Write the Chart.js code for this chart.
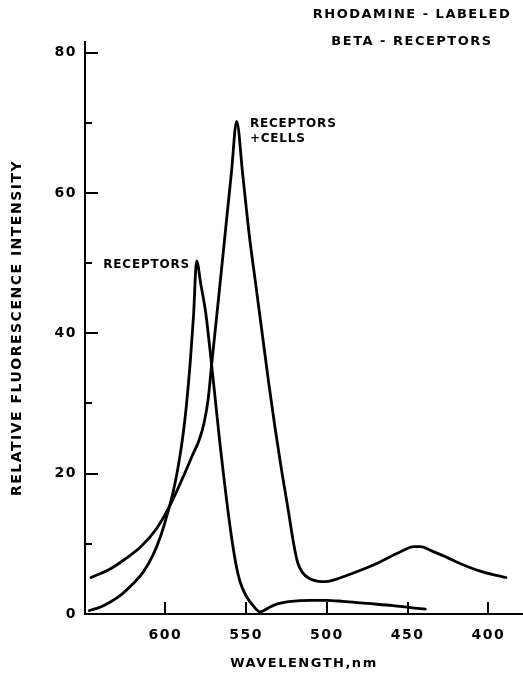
<!DOCTYPE html>
<html><head><meta charset="utf-8">
<script src="https://cdn.jsdelivr.net/npm/chart.js@4/dist/chart.umd.min.js"></script>
<style>html,body{margin:0;padding:0;background:#fff;}#wrap{width:523px;height:678px;position:relative;}</style>
</head><body><div id="wrap"><canvas id="c"></canvas></div>
<script>
// Receptors + cells
const cellsWavelength = [646, 635, 625, 615, 605, 597, 589, 583, 579, 576, 573.5, 571.3, 567, 563, 559, 555.8, 552, 548, 544, 540, 536, 532, 528, 524, 520.5, 518, 515, 511, 506, 501, 495, 484, 469, 455, 446, 442, 435, 425, 417.5, 405, 395, 389];
const cellsIntensity  = [5.2, 6.3, 7.8, 9.6, 12.3, 15.5, 19.5, 22.7, 24.8, 27.2, 30.5, 35.5, 45, 54, 63, 70.2, 62.5, 54, 47, 40, 33, 26.5, 20.5, 15, 10, 7.3, 5.9, 5.1, 4.7, 4.6, 4.9, 5.8, 7.2, 8.8, 9.6, 9.6, 9.0, 8.0, 7.2, 6.1, 5.5, 5.2];
// Receptors
const receptorsWavelength = [647, 640, 634, 627, 620, 613.6, 608, 603, 599, 595, 592, 589, 587, 584.5, 582.5, 580.6, 578, 575, 572, 569, 566, 564, 562, 559, 556, 553.7, 550, 546, 541.4, 536, 531, 522, 510, 500, 490, 475, 459, 448, 439];
const receptorsIntensity  = [0.5, 1.0, 1.7, 2.8, 4.3, 6.0, 8.2, 11, 14, 17.5, 21, 25.5, 29.5, 36, 42.5, 50.3, 47, 43, 37, 30.5, 24, 20, 16.2, 11, 6.8, 4.6, 2.6, 1.3, 0.3, 0.9, 1.4, 1.8, 1.95, 1.95, 1.8, 1.5, 1.2, 0.9, 0.7];

const xTickValues = [600, 550, 500, 450, 400];
const yTickValues = [0, 10, 20, 30, 40, 50, 60, 70, 80];
const yLabelValues = [0, 20, 40, 60, 80];
const titleLines = ['RHODAMINE - LABELED', 'BETA - RECEPTORS'];
const seriesNames = ['RECEPTORS', 'RECEPTORS\n+CELLS'];
const xTitle = 'WAVELENGTH,nm';
const yTitle = 'RELATIVE FLUORESCENCE INTENSITY';

const FONT = "'DejaVu Sans', sans-serif";

const toPoints = (xs, ys) => xs.map((x, i) => ({x, y: ys[i]}));

const spacingPlugin = {
  id: 'spacing',
  beforeDraw(chart) { chart.ctx.letterSpacing = '1.5px'; }
};

const decoPlugin = {
  id: 'deco',
  afterDraw(chart) {
    const ctx = chart.ctx;
    const xs = chart.scales.x, ys = chart.scales.y;
    const a = chart.chartArea;
    ctx.save();
    ctx.strokeStyle = '#000';
    ctx.lineWidth = 2;
    ctx.lineCap = 'butt';
    // inward y ticks
    yTickValues.forEach(v => {
      if (v === 0) return;
      const y = Math.round(ys.getPixelForValue(v));
      const len = yLabelValues.includes(v) ? 13 : 7;
      ctx.beginPath(); ctx.moveTo(a.left, y); ctx.lineTo(a.left + len, y); ctx.stroke();
    });
    // inward x ticks
    xTickValues.forEach(v => {
      const x = Math.round(xs.getPixelForValue(v));
      ctx.beginPath(); ctx.moveTo(x, a.bottom); ctx.lineTo(x, a.bottom - 12); ctx.stroke();
    });
    // title
    ctx.fillStyle = '#000';
    ctx.letterSpacing = '1.5px';
    ctx.font = "bold 13px " + FONT;
    ctx.textAlign = 'center';
    ctx.textBaseline = 'middle';
    ctx.fillText(titleLines[0], 412, 15);
    ctx.fillText(titleLines[1], 412, 42);
    // series labels
    ctx.font = "bold 12px " + FONT;
    ctx.letterSpacing = '0.8px';
    ctx.textAlign = 'right';
    ctx.fillText(seriesNames[0], xs.getPixelForValue(584.7), ys.getPixelForValue(49.7));
    ctx.textAlign = 'left';
    const parts = seriesNames[1].split('\n');
    ctx.fillText(parts[0], xs.getPixelForValue(547.6), ys.getPixelForValue(69.9));
    ctx.fillText(parts[1], xs.getPixelForValue(547.6), ys.getPixelForValue(67.7));
    ctx.restore();
  }
};

new Chart(document.getElementById('c'), {
  type: 'line',
  data: {
    datasets: [
      { label: 'Receptors + cells', data: toPoints(cellsWavelength, cellsIntensity),
        borderColor: '#000', borderWidth: 2.8, pointRadius: 0, fill: false,
        cubicInterpolationMode: 'monotone', borderJoinStyle: 'round', borderCapStyle: 'round' },
      { label: 'Receptors', data: toPoints(receptorsWavelength, receptorsIntensity),
        borderColor: '#000', borderWidth: 2.8, pointRadius: 0, fill: false,
        cubicInterpolationMode: 'monotone', borderJoinStyle: 'round', borderCapStyle: 'round' }
    ]
  },
  options: {
    animation: false,
    responsive: true,
    maintainAspectRatio: false,
    devicePixelRatio: 1,
    layout: { padding: { top: 42, right: 0, left: 0, bottom: 0 } },
    plugins: { legend: { display: false }, tooltip: { enabled: false } },
    scales: {
      x: {
        type: 'linear', reverse: true, min: 378.5, max: 649.7,
        afterBuildTicks: s => { s.ticks = xTickValues.map(v => ({value: v})); },
        afterFit: s => { s.height = 64; },
        grid: { display: false, drawTicks: false },
        border: { display: true, color: '#000', width: 2 },
        ticks: { color: '#000', padding: 13, font: { family: FONT, weight: 'bold', size: 14 }, maxRotation: 0, autoSkip: false },
        title: { display: true, text: xTitle, color: '#000', font: { family: FONT, weight: 'bold', size: 13 }, padding: { top: 0, bottom: 7 } }
      },
      y: {
        type: 'linear', min: 0, max: 81.5,
        afterBuildTicks: s => { s.ticks = yTickValues.map(v => ({value: v})); },
        afterFit: s => { s.width = 85; },
        grid: { display: false, drawTicks: false },
        border: { display: true, color: '#000', width: 2 },
        ticks: { color: '#000', padding: 8, autoSkip: false, font: { family: FONT, weight: 'bold', size: 14 },
          callback: v => yLabelValues.includes(v) ? String(v) : '' },
        title: { display: true, text: yTitle, color: '#000', font: { family: FONT, weight: 'bold', size: 14 }, padding: { top: 9, bottom: 0 } }
      }
    }
  },
  plugins: [spacingPlugin, decoPlugin]
});
</script></body></html>
